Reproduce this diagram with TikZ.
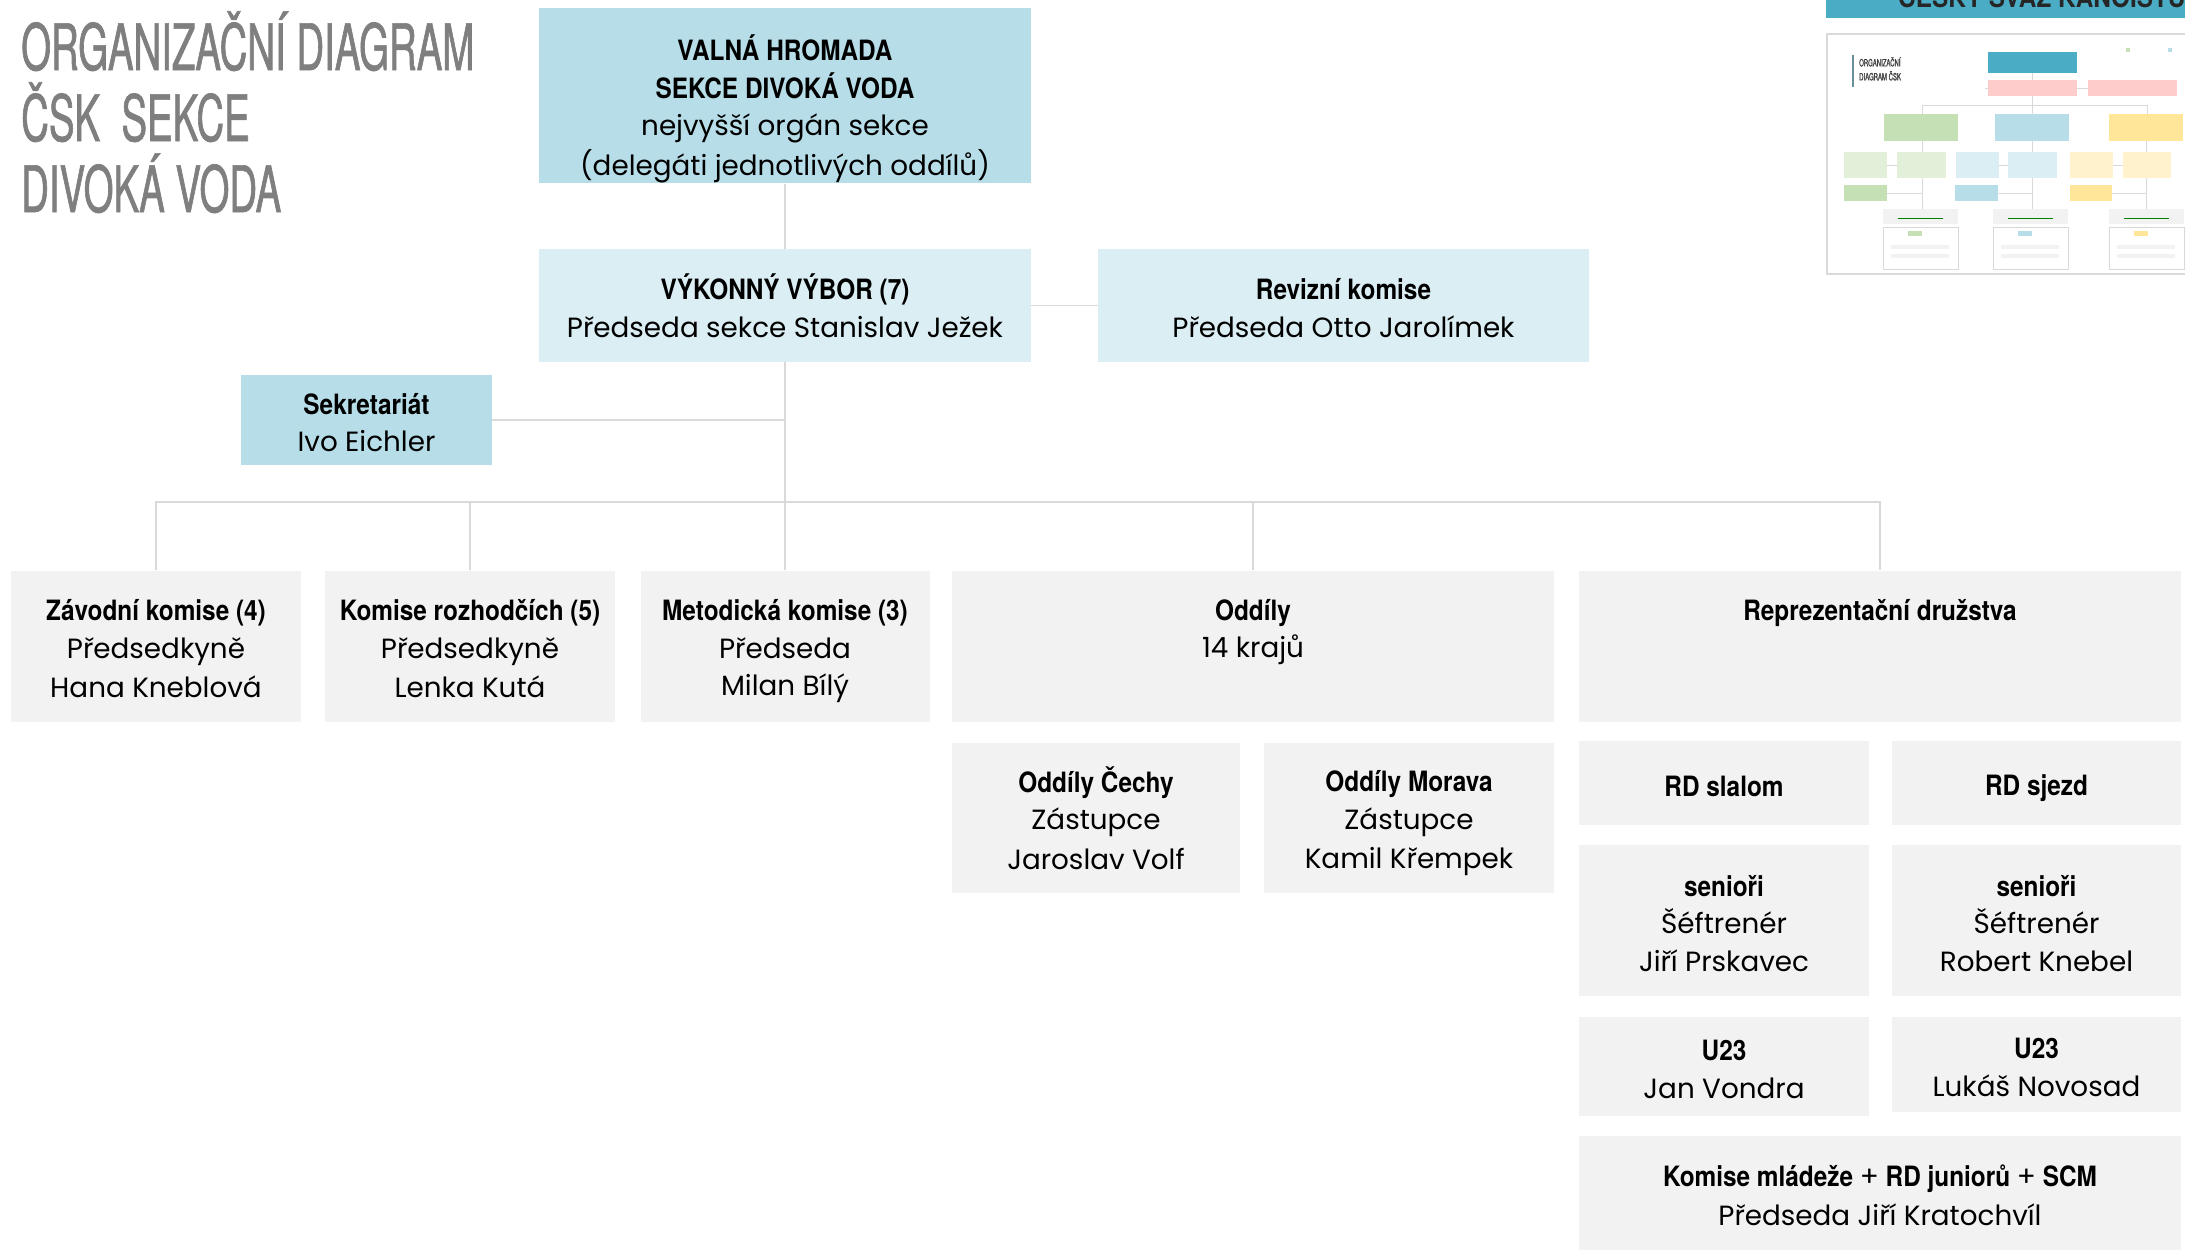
\documentclass[tikz,border=0pt]{standalone}
\usepackage{fontspec}
\setmainfont{Poppins}
\newfontfamily\headfont[FakeStretch=0.87]{TeX Gyre Heros}
\newfontfamily\titlefont[FakeStretch=0.6,FakeBold=1]{TeX Gyre Heros}

\definecolor{hromada}{HTML}{B7DEE8}
\definecolor{vybor}{HTML}{DAEEF3}
\definecolor{sedy}{HTML}{F2F2F2}
\definecolor{cara}{HTML}{D9D9D9}
\definecolor{nadpis}{HTML}{7F7F7F}
\definecolor{lista}{HTML}{4BACC6}
\definecolor{zelena}{HTML}{C5E0B4}
\definecolor{zelenasv}{HTML}{E2F0D9}
\definecolor{zluta}{HTML}{FFE699}
\definecolor{zlutasv}{HTML}{FFF2CC}
\definecolor{ruzova}{HTML}{FFCCCC}

\newcommand\sr{\rule[-5.4pt]{0pt}{37pt}}
\newcommand\hd[1]{{\sr\headfont\bfseries\fontsize{28}{37.6}\selectfont #1}}

\tikzset{
    box/.style={rectangle,inner sep=0pt,align=center,text=black,
        font=\fontsize{27.8}{37.6}\selectfont},
    modra/.style={box,fill=hromada},
    svetla/.style={box,fill=vybor},
    seda/.style={box,fill=sedy},
    link/.style={draw=cara,line width=1.8pt},
    titul/.style={anchor=base west,inner sep=0pt,text=nadpis,
        font=\titlefont\fontsize{64}{71}\selectfont},
}

\begin{document}
\begin{tikzpicture}[x=1pt,y=-1pt]
    \useasboundingbox (0,0) rectangle (2185,1250);

    \node[titul] (t1) at (21,70) {ORGANIZAČNÍ DIAGRAM};
    \node[titul] (t2) at (21,141) {ČSK\ \ SEKCE};
    \node[titul] (t3) at (21,212) {DIVOKÁ VODA};

    \node[modra,minimum width=492pt,minimum height=175pt] (vh) at (785,95.5)
        {\rule{0pt}{53pt}\hd{VALNÁ HROMADA}\\\hd{SEKCE DIVOKÁ VODA}\\nejvyšší orgán sekce\\(delegáti jednotlivých oddílů)\sr};
    \node[svetla,minimum width=492pt,minimum height=113pt] (vv) at (785,305.5)
        {\hd{VÝKONNÝ VÝBOR (7)}\\Předseda sekce Stanislav Ježek\sr};
    \node[svetla,minimum width=491pt,minimum height=113pt] (rk) at (1343.5,305.5)
        {\hd{Revizní komise}\\Předseda Otto Jarolímek\sr};
    \node[modra,minimum width=251pt,minimum height=90pt] (sek) at (366.5,420)
        {\hd{Sekretariát}\\Ivo Eichler\sr};

    \node[seda,minimum width=290pt,minimum height=151pt] (zk) at (156,646)
        {\hd{Závodní komise (4)}\\Předsedkyně\\Hana Kneblová\sr};
    \node[seda,minimum width=290pt,minimum height=151pt] (kr) at (470,646)
        {\hd{Komise rozhodčích (5)}\\Předsedkyně\\Lenka Kutá\sr};
    \node[seda,minimum width=289pt,minimum height=151pt] (mk) at (785,646)
        {\hd{Metodická komise (3)}\\Předseda\\Milan Bílý\sr};
    \node[seda,minimum width=602pt,minimum height=151pt] (odd) at (1253,646)
        {\hd{Oddíly}\\14 krajů\\\sr};
    \node[seda,minimum width=602pt,minimum height=151pt] (rep) at (1880,646)
        {\hd{Reprezentační družstva}\\\sr\\\sr};

    \node[seda,minimum width=288pt,minimum height=150pt] (cech) at (1096,818)
        {\hd{Oddíly Čechy}\\Zástupce\\Jaroslav Volf\sr};
    \node[seda,minimum width=290pt,minimum height=150pt] (mor) at (1409,818)
        {\hd{Oddíly Morava}\\Zástupce\\Kamil Křempek\sr};

    \node[seda,minimum width=290pt,minimum height=84pt] (rds) at (1724,783) {\hd{RD slalom}};
    \node[seda,minimum width=289pt,minimum height=84pt] (rdj) at (2036.5,783) {\hd{RD sjezd}};
    \node[seda,minimum width=290pt,minimum height=151pt] (sens) at (1724,920.5)
        {\hd{senioři}\\Šéftrenér\\Jiří Prskavec\sr};
    \node[seda,minimum width=289pt,minimum height=151pt] (senj) at (2036.5,920.5)
        {\hd{senioři}\\Šéftrenér\\Robert Knebel\sr};
    \node[seda,minimum width=290pt,minimum height=99pt] (u23s) at (1724,1066.5)
        {\hd{U23}\\Jan Vondra\sr};
    \node[seda,minimum width=289pt,minimum height=95pt] (u23j) at (2036.5,1064.5)
        {\hd{U23}\\Lukáš Novosad\sr};
    \node[seda,minimum width=602pt,minimum height=114pt] (mlad) at (1880,1193)
        {\hd{Komise mládeže {\normalfont+} RD juniorů {\normalfont+} SCM}\\Předseda Jiří Kratochvíl\sr};

    \coordinate (bus) at (0,502);
    \draw[link] (vh) -- (vv);
    \draw[link] (vv) -- (rk);
    \draw[link] (vv) -- (mk);
    \draw[link] (sek.east) -- (sek.east -| vv.south);
    \draw[link] (zk.north) |- (bus -| rep.north) -- (rep.north);
    \draw[link] (kr.north) -- (kr.north |- bus);
    \draw[link] (odd.north) -- (odd.north |- bus);

    % nahled celostatniho diagramu
    \begin{scope}
        \clip (1826,0) rectangle (2185,18);
        \fill[lista] (1826,0) rectangle (2185,18);
        \node[anchor=base west,inner sep=0pt,text=black!85,
            font=\headfont\bfseries\fontsize{28}{28}\selectfont] (csk) at (1898,7) {ČESKÝ SVAZ KANOISTŮ};
    \end{scope}
    \draw[cara,line width=2pt,fill=white] (1827,34) rectangle (2190,274);
    \fill[nadpis!60!lista] (1852,55) rectangle (1854,87);
    \node[anchor=north west,inner sep=0pt,align=left,text=black!75,
        font=\titlefont\fontsize{10}{14}\selectfont] (mini) at (1859,57) {ORGANIZAČNÍ\\DIAGRAM ČSK};
    \fill[zelena] (2126,48) rectangle (2130,52);
    \fill[hromada] (2168,48) rectangle (2172,52);
    \begin{scope}[cara,line width=0.8pt]
        \draw (2032,73) -- (2032,114);
        \draw (1985,88) -- (2088,88);
        \draw (1922,114) |- (2147,105) -- (2147,114);
        \foreach \x in {1922,2032,2146} \draw (\x,141) -- (\x,209);
        \draw (1887,165) -- (1897,165) (1999,165) -- (2008,165) (2113,165) -- (2123,165);
        \draw (1887,193) -- (1922,193) (1998,193) -- (2032,193) (2112,193) -- (2146,193);
    \end{scope}
    \fill[lista] (1988,52) rectangle (2077,73);
    \fill[ruzova] (1988,80) rectangle (2077,96);
    \fill[ruzova] (2088,80) rectangle (2177,96);
    \fill[zelena] (1884,114) rectangle (1958,141);
    \fill[hromada] (1995,114) rectangle (2069,141);
    \fill[zluta] (2109,114) rectangle (2183,141);
    \fill[zelenasv] (1844,152) rectangle (1887,178);
    \fill[zelenasv] (1897,152) rectangle (1946,178);
    \fill[vybor] (1956,152) rectangle (1999,178);
    \fill[vybor] (2008,152) rectangle (2057,178);
    \fill[zlutasv] (2070,152) rectangle (2113,178);
    \fill[zlutasv] (2123,152) rectangle (2171,178);
    \fill[zelena] (1844,185) rectangle (1887,201);
    \fill[hromada] (1955,185) rectangle (1998,201);
    \fill[zluta] (2070,185) rectangle (2112,201);
    \foreach \x/\c in {1883/zelena,1993/hromada,2109/zluta} {
        \fill[sedy] (\x,209) rectangle ++(75,15);
        \draw[green!50!black,line width=0.6pt] (\x+15,218) -- ++(45,0);
        \draw[cara,line width=1pt] (\x,227) rectangle ++(75,42);
        \fill[\c] (\x+25,231) rectangle ++(14,5);
        \fill[sedy] (\x+8,245) rectangle ++(58,4);
        \fill[sedy] (\x+8,254) rectangle ++(58,4);
    }
\end{tikzpicture}
\end{document}
